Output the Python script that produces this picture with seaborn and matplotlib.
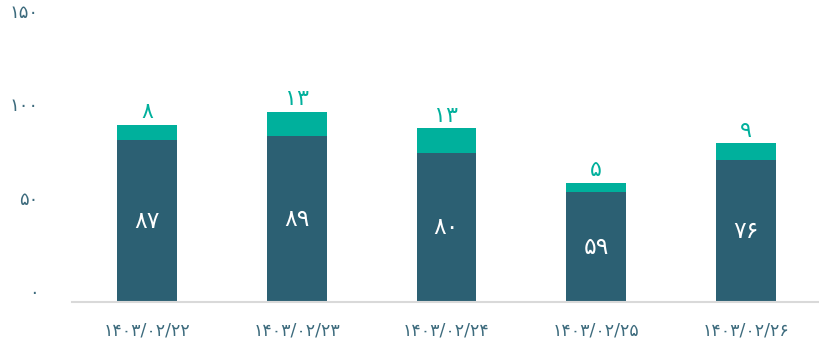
import matplotlib
matplotlib.use("Agg")
import matplotlib.pyplot as plt
import seaborn as sns
import pandas as pd

dates = ["۱۴۰۳/۰۲/۲۲", "۱۴۰۳/۰۲/۲۳", "۱۴۰۳/۰۲/۲۴", "۱۴۰۳/۰۲/۲۵", "۱۴۰۳/۰۲/۲۶"]
base_values = [87, 89, 80, 59, 76]
extra_values = [8, 13, 13, 5, 9]
y_ticks = [0, 50, 100, 150]

PERSIAN = str.maketrans("0123456789", "۰۱۲۳۴۵۶۷۸۹")

def fa(n):
    return str(n).translate(PERSIAN)

dark = "#2c6073"
teal = "#00b09c"
text_col = "#3d6b7d"

sns.set_theme(style="white")
plt.rcParams["font.family"] = ["DejaVu Sans"]

df = pd.DataFrame({"date": dates, "base": base_values, "extra": extra_values})
df["total"] = df["base"] + df["extra"]

fig = plt.figure(figsize=(8.2, 3.41), dpi=100)
ax = fig.add_axes([72 / 820, 39 / 341, 749 / 820, 280 / 341])

sns.barplot(data=df, x="date", y="total", color=teal, width=0.4, ax=ax,
            saturation=1, linewidth=0)
sns.barplot(data=df, x="date", y="base", color=dark, width=0.4, ax=ax,
            saturation=1, linewidth=0)

for i, (b, e) in enumerate(zip(base_values, extra_values)):
    ax.text(i, b / 2, fa(b), ha="center", va="center", color="white",
            fontsize=17)
    ax.text(i, b + e + 1.5, fa(e), ha="center", va="bottom", color=teal,
            fontsize=16)

ax.set_ylim(0, 150)
ax.set_xlim(-0.5, 4.5)
ax.set_yticks(y_ticks)
ax.set_yticklabels([fa(t) for t in y_ticks])
ax.tick_params(axis="y", length=0, pad=24, labelsize=13, labelcolor=text_col)
ax.tick_params(axis="x", length=0, pad=14, labelsize=12.5, labelcolor=text_col)
for lab in ax.get_yticklabels():
    lab.set_verticalalignment("bottom")
ax.set_xlabel("")
ax.set_ylabel("")
for s in ["top", "right", "left"]:
    ax.spines[s].set_visible(False)
ax.spines["bottom"].set_color("#d9d9d9")
ax.spines["bottom"].set_linewidth(1.5)

fig.savefig("out.png", dpi=100)
